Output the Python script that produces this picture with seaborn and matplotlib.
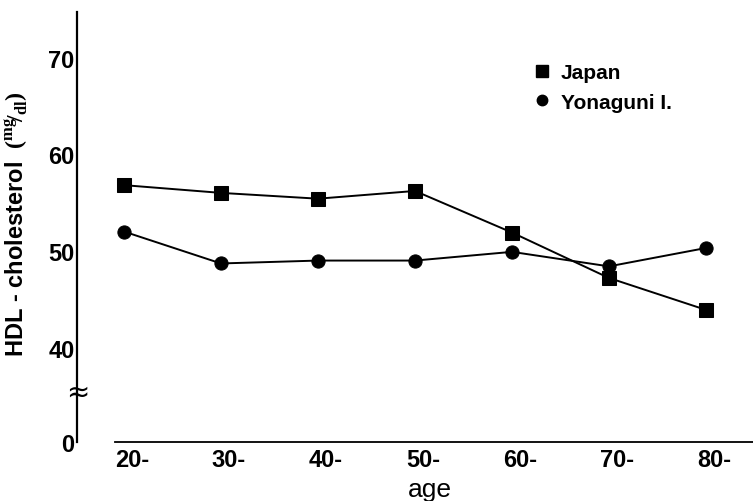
import matplotlib
matplotlib.use("Agg")
import matplotlib.pyplot as plt
import numpy as np
import pandas as pd
import seaborn as sns
from matplotlib.lines import Line2D
from matplotlib.transforms import ScaledTranslation, blended_transform_factory

# ---- data ----
age_groups = [20, 30, 40, 50, 60, 70, 80]
age_labels = ["20-", "30-", "40-", "50-", "60-", "70-", "80-"]
japan = [56.8, 56.0, 55.4, 56.2, 51.9, 47.2, 43.9]
yonaguni = [52.0, 48.7, 49.0, 49.0, 49.9, 48.4, 50.3]
series_names = ["Japan", "Yonaguni I."]
y_tick_values = [40, 50, 60, 70]
y_tick_labels = ["40", "50", "60", "70"]
zero_label = "0"

# broken-axis geometry (position where the "0" is drawn, and the break mark)
y_zero_pos = 30.2
y_break_pos = 35.4

df = pd.DataFrame({
    "age": age_groups * 2,
    "hdl": japan + yonaguni,
    "region": [series_names[0]] * len(age_groups) + [series_names[1]] * len(age_groups),
})

sns.set_style("white")
plt.rcParams["font.family"] = ["Liberation Sans", "DejaVu Sans"]
plt.rcParams["font.weight"] = "bold"
plt.rcParams["mathtext.fontset"] = "custom"
plt.rcParams["mathtext.rm"] = "Liberation Serif"
for k in ["text.color", "axes.labelcolor", "xtick.color", "ytick.color", "axes.edgecolor"]:
    plt.rcParams[k] = "black"

fig = plt.figure(figsize=(7.53, 5.02), dpi=100)
ax = fig.add_axes([0.1027, 0.1169, 0.8973, 0.857])

sns.lineplot(
    data=df, x="age", y="hdl", hue="region", style="region",
    markers={series_names[0]: "s", series_names[1]: "o"}, dashes=False,
    palette={series_names[0]: "black", series_names[1]: "black"},
    markersize=10, linewidth=1.4, markeredgecolor="black", ax=ax, legend=False,
)
for ln in ax.lines:
    if ln.get_marker() == "o":
        ln.set_markersize(9.5)

ax.set_xlim(15.19, 84.85)
ax.set_ylim(y_zero_pos, 74.7)

for s in ["top", "right"]:
    ax.spines[s].set_visible(False)
ax.spines["left"].set_linewidth(1.6)
ax.spines["bottom"].set_linewidth(1.3)
ax.spines["bottom"].set_bounds(19.07, 84.85)

ax.set_xticks(age_groups)
ax.set_xticklabels(age_labels)
ax.set_yticks([y_zero_pos] + y_tick_values)
ax.set_yticklabels([zero_label] + y_tick_labels)
ax.tick_params(axis="y", direction="in", length=4, width=1.3, pad=2, labelsize=17)
ax.tick_params(axis="x", direction="in", length=5, width=1.2, pad=4, labelsize=17)
off = ScaledTranslation(8 / 100, 0, fig.dpi_scale_trans)
for lbl in ax.get_xticklabels():
    lbl.set_transform(lbl.get_transform() + off)
    lbl.set_fontweight("bold")
for lbl in ax.get_yticklabels():
    lbl.set_fontweight("bold")

# axis break mark
ax.text(0, y_break_pos, "≈", transform=blended_transform_factory(ax.transAxes, ax.transData),
        ha="center", va="center", fontsize=20, fontweight="normal", family="DejaVu Sans",
        clip_on=False, zorder=5)

ax.set_ylabel(r"HDL - cholesterol  $\left(^{\rm mg}\!/_{\rm dl}\right)$", fontsize=17, fontweight="bold")
ax.yaxis.set_label_coords(-0.068, 0.51)
ax.set_xlabel("age", fontsize=19, fontweight="normal")
ax.xaxis.set_label_coords(0.522, -0.08)

handles = [
    Line2D([], [], marker="s", color="black", linestyle="none", markersize=8),
    Line2D([], [], marker="o", color="black", linestyle="none", markersize=7.5),
]
ax.legend(handles, series_names, loc="upper left", bbox_to_anchor=(0.695, 0.893),
          bbox_transform=fig.transFigure, frameon=False, borderpad=0,
          handlelength=0.8, handletextpad=0.5, labelspacing=0.5,
          prop={"weight": "bold", "size": 15})

fig.savefig("out.png", dpi=100)
